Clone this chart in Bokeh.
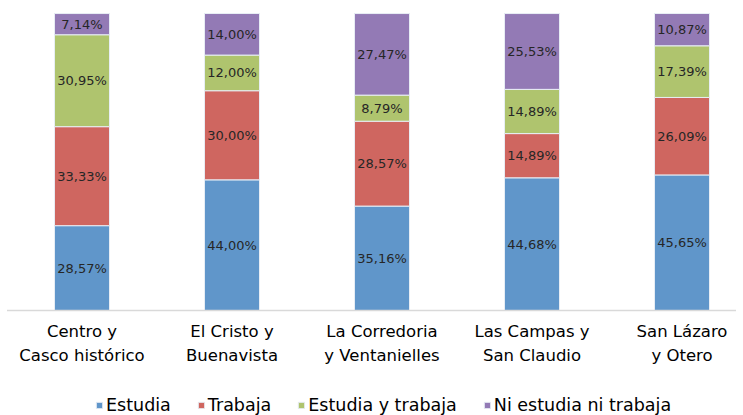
from bokeh.plotting import figure
from bokeh.models import ColumnDataSource, Range1d, Legend, LegendItem
from bokeh.core.properties import value
from bokeh.embed import file_html
from bokeh.resources import INLINE

categories = ["Centro y\nCasco histórico", "El Cristo y\nBuenavista", "La Corredoria\ny Ventanielles",
              "Las Campas y\nSan Claudio", "San Lázaro\ny Otero"]
series = ["Estudia", "Trabaja", "Estudia y trabaja", "Ni estudia ni trabaja"]
estudia = [28.57, 44.00, 35.16, 44.68, 45.65]
trabaja = [33.33, 30.00, 28.57, 14.89, 26.09]
estudia_y_trabaja = [30.95, 12.00, 8.79, 14.89, 17.39]
ni_estudia_ni_trabaja = [7.14, 14.00, 27.47, 25.53, 10.87]
colors = ["#6096CA", "#CF6660", "#AFC46E", "#937AB5"]

FONT = "DejaVu Sans"
p = figure(width=743, height=415, output_backend="svg", toolbar_location=None,
           x_range=Range1d(-0.5433, 4.41), y_range=Range1d(-0.3535, 1.0438),
           min_border=0, outline_line_color=None)
p.axis.visible = False
p.grid.visible = False

xs = list(range(len(categories)))
values = [estudia, trabaja, estudia_y_trabaja, ni_estudia_ni_trabaja]
bottom = [0.0] * len(categories)
items = []
for name, vals, col in zip(series, values, colors):
    top = [b + v / 100.0 for b, v in zip(bottom, vals)]
    mid = [(b + t) / 2 for b, t in zip(bottom, top)]
    src = ColumnDataSource(dict(x=xs, bottom=bottom, top=top, mid=mid,
                                lab=[f"{v:.2f}%".replace(".", ",") for v in vals]))
    r = p.vbar(x="x", bottom="bottom", top="top", width=0.367, source=src,
               fill_color=col, line_color="#e8eef5", line_width=1)
    p.text(x="x", y="mid", text="lab", source=src, text_align="center", text_baseline="middle",
           text_font=value(FONT), text_font_size="13px", text_color="#262626")
    items.append(LegendItem(label=name, renderers=[r]))
    bottom = top

# axis line
p.segment(x0=[-0.5], y0=[0], x1=[4.36], y1=[0], line_color="#D9D9D9", line_width=1.5)

# category labels
p.text(x=xs, y=[-0.111] * len(xs), text=categories, text_align="center", text_baseline="middle",
       text_font=value(FONT), text_font_size="16.5px", text_color="#000000", text_line_height=1.3)

legend = Legend(items=items, orientation="horizontal", location=(95, 0),
                glyph_width=8, glyph_height=8, label_standoff=3, spacing=26,
                padding=0, margin=0, border_line_color=None, background_fill_alpha=0,
                label_text_font=FONT, label_text_font_size="17.5px", label_text_color="#000000")
p.add_layout(legend)

open("out.html", "w").write(file_html(p, INLINE))
